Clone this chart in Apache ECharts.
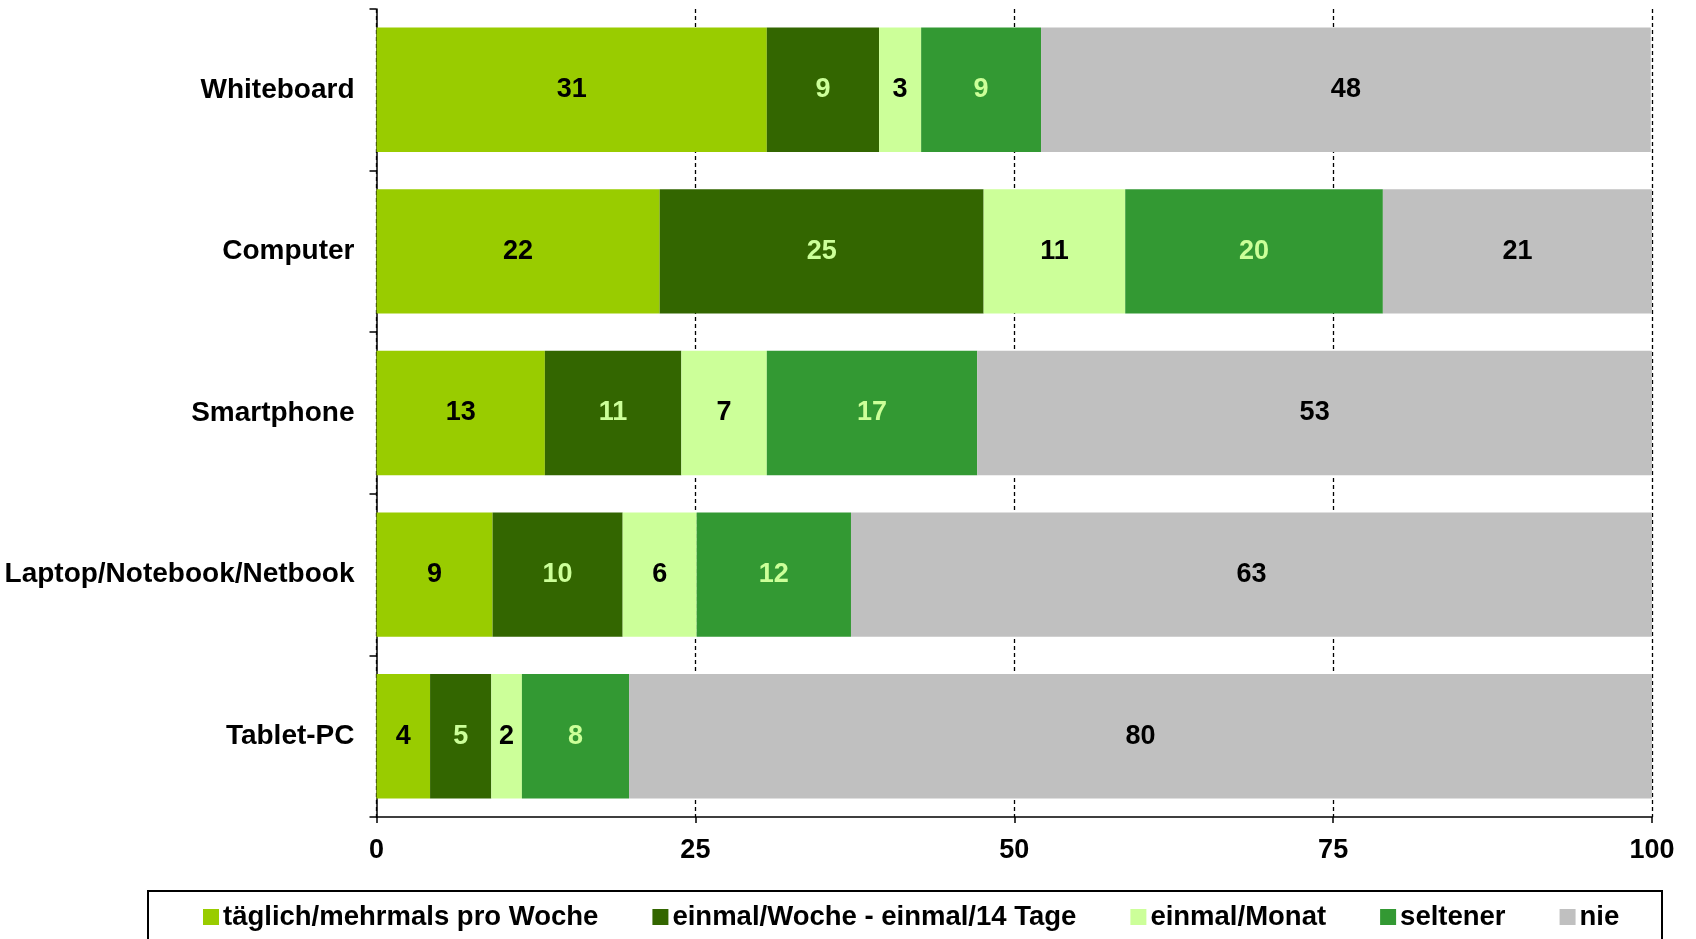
<!DOCTYPE html>
<html>
<head>
<meta charset="utf-8">
<script src="https://cdn.jsdelivr.net/npm/echarts@6/dist/echarts.min.js"></script>
<style>
html,body{margin:0;padding:0;background:#fff;}
#chart{width:1696px;height:939px;}
</style>
</head>
<body>
<div id="chart"></div>
<script>
const categories = ['Whiteboard', 'Computer', 'Smartphone', 'Laptop/Notebook/Netbook', 'Tablet-PC'];
const seriesNames = ['täglich/mehrmals pro Woche', 'einmal/Woche - einmal/14 Tage', 'einmal/Monat', 'seltener', 'nie'];
const taeglich = [30.6, 22.2, 13.2, 9.1, 4.2];
const woche = [8.8, 25.4, 10.7, 10.2, 4.8];
const monat = [3.3, 11.1, 6.7, 5.8, 2.4];
const seltener = [9.4, 20.2, 16.5, 12.1, 8.4];
const nie = [47.8, 21.3, 52.9, 63.0, 80.2];
const xTicks = [0, 25, 50, 75, 100];

const colors = ['#99CC00', '#336600', '#CCFF99', '#339933', '#C0C0C0'];
const labelColors = ['#000000', '#CCFF99', '#000000', '#CCFF99', '#000000'];
const FONT = '"Liberation Sans", Arial, sans-serif';

const allData = [taeglich, woche, monat, seltener, nie];

const chart = echarts.init(document.getElementById('chart'), null, {renderer: 'canvas'});
const series = seriesNames.map((name, i) => ({
  name: name,
  type: 'bar',
  stack: 'total',
  data: allData[i],
  barCategoryGap: '23%',
  itemStyle: {color: colors[i]},
  label: {
    show: true,
    position: 'inside',
    formatter: p => String(Math.round(p.value)),
    color: labelColors[i],
    fontFamily: FONT,
    fontWeight: 'bold',
    fontSize: 27
  },
  emphasis: {disabled: true}
}));

chart.setOption({
  animation: false,
  backgroundColor: '#ffffff',
  grid: {left: 376.5, right: 44, top: 9, bottom: 122, containLabel: false},
  xAxis: {
    type: 'value',
    min: xTicks[0],
    max: xTicks[xTicks.length - 1],
    interval: 25,
    axisLine: {show: true, lineStyle: {color: '#000', width: 1.5}},
    axisTick: {show: true, length: 6, lineStyle: {color: '#000', width: 1.5}},
    axisLabel: {
      color: '#000', fontFamily: FONT, fontWeight: 'bold', fontSize: 27, margin: 20,
      formatter: v => xTicks.includes(v) ? String(v) : ''
    },
    splitLine: {show: true, lineStyle: {color: '#000', width: 1.3, type: [4, 3]}}
  },
  yAxis: {
    type: 'category',
    data: categories,
    inverse: true,
    axisLine: {show: true, lineStyle: {color: '#000', width: 1.5}},
    axisTick: {show: true, length: 7, alignWithLabel: false, lineStyle: {color: '#000', width: 1.5}},
    axisLabel: {color: '#000', fontFamily: FONT, fontWeight: 'bold', fontSize: 28, margin: 22},
    splitLine: {show: false}
  },
  legend: {
    show: true,
    left: 203,
    top: 903,
    itemWidth: 16,
    itemHeight: 16,
    itemGap: 54,
    icon: 'rect',
    padding: 0,
    selectedMode: false,
    textStyle: {color: '#000', fontFamily: FONT, fontWeight: 'bold', fontSize: 27.5, padding: [0, 0, 0, -1]},
    data: seriesNames
  },
  graphic: [{
    type: 'rect',
    shape: {x: 148, y: 891, width: 1514, height: 60},
    style: {fill: 'none', stroke: '#000', lineWidth: 2},
    silent: true,
    z: -1
  }],
  series: series
});
</script>
</body>
</html>
